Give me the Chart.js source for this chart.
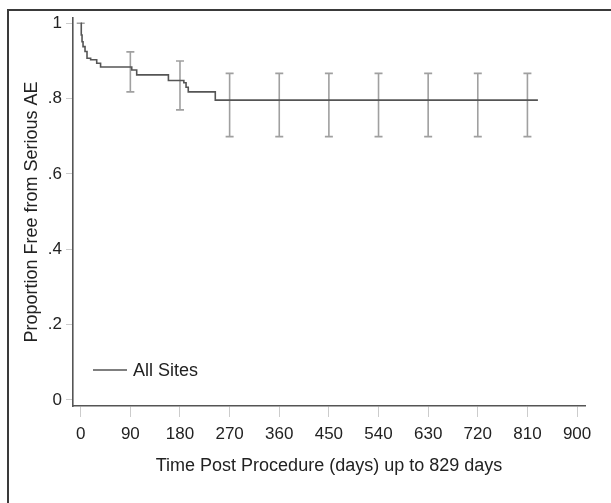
<!DOCTYPE html>
<html><head><meta charset="utf-8">
<script src="https://cdn.jsdelivr.net/npm/chart.js@4.4.0/dist/chart.umd.min.js"></script>
<style>html,body{margin:0;padding:0;background:#fff;} #wrap{position:relative;width:611px;height:503px;}</style>
</head><body><div id="wrap"><canvas id="c" width="611" height="503"></canvas></div>
<script>
// Kaplan-Meier estimate (days, proportion free from serious AE)
const kmTimes    = [0, 1, 2.4, 4.2, 7.8, 11.4, 18, 29, 36, 92.5, 101.5, 159, 187, 191, 195, 244, 829];
const kmSurvival = [1, 0.969, 0.951, 0.938, 0.925, 0.907, 0.903, 0.894, 0.884, 0.876, 0.863, 0.848, 0.842, 0.830, 0.818, 0.796, 0.796];
// confidence intervals shown at fixed times
const ciTimes = [0, 90, 180, 270, 360, 450, 540, 630, 720, 810];
const ciLower = [1, 0.818, 0.770, 0.699, 0.699, 0.699, 0.699, 0.699, 0.699, 0.699];
const ciUpper = [1, 0.924, 0.900, 0.867, 0.867, 0.867, 0.867, 0.867, 0.867, 0.867];
const xTickValues = [0, 90, 180, 270, 360, 450, 540, 630, 720, 810, 900];
const yTickValues = [0, 0.2, 0.4, 0.6, 0.8, 1];
const yTickLabels = ['0', '.2', '.4', '.6', '.8', '1'];
const seriesLabel = 'All Sites';
const xTitle = 'Time Post Procedure (days) up to 829 days';
const yTitle = 'Proportion Free from Serious AE';

const FONT = '"Liberation Sans", Arial, sans-serif';

const errorBars = {
  id: 'errorBars',
  beforeDatasetsDraw(chart) {
    const {ctx, scales: {x, y}} = chart;
    ctx.save();
    ctx.strokeStyle = '#a0a0a0';
    ctx.lineWidth = 1.6;
    ciTimes.forEach((t, i) => {
      const px = x.getPixelForValue(t);
      const lo = y.getPixelForValue(ciLower[i]);
      const hi = y.getPixelForValue(ciUpper[i]);
      ctx.beginPath();
      ctx.moveTo(px, lo); ctx.lineTo(px, hi);
      ctx.moveTo(px - 4, lo); ctx.lineTo(px + 4, lo);
      ctx.moveTo(px - 4, hi); ctx.lineTo(px + 4, hi);
      ctx.stroke();
    });
    ctx.restore();
  }
};

const frameAndLegend = {
  id: 'frameAndLegend',
  afterDraw(chart) {
    const {ctx} = chart;
    ctx.save();
    // outer frame
    ctx.strokeStyle = '#3a3a3a';
    ctx.lineWidth = 2;
    ctx.beginPath();
    ctx.moveTo(8, 503); ctx.lineTo(8, 10); ctx.lineTo(611, 10);
    ctx.stroke();
    // legend
    const ds = chart.data.datasets[0];
    ctx.strokeStyle = ds.borderColor;
    ctx.lineWidth = 1.5;
    ctx.beginPath();
    ctx.moveTo(93, 370); ctx.lineTo(127, 370);
    ctx.stroke();
    ctx.fillStyle = '#222';
    ctx.font = '18px ' + FONT;
    ctx.textBaseline = 'middle';
    ctx.textAlign = 'left';
    ctx.fillText(ds.label, 133, 371);
    ctx.restore();
  }
};

new Chart(document.getElementById('c'), {
  type: 'line',
  data: {
    datasets: [{
      label: seriesLabel,
      data: kmTimes.map((t, i) => ({x: t, y: kmSurvival[i]})),
      stepped: 'before',
      borderColor: '#555555',
      borderWidth: 1.6,
      pointRadius: 0,
      fill: false
    }]
  },
  options: {
    responsive: false,
    animation: false,
    devicePixelRatio: 1,
    layout: {padding: {left: 0, top: 18, right: 26, bottom: 0}},
    plugins: {legend: {display: false}, tooltip: {enabled: false}},
    scales: {
      x: {
        type: 'linear',
        min: -14,
        max: 914.4,
        afterBuildTicks: s => { s.ticks = xTickValues.map(v => ({value: v})); },
        afterFit: s => { s.height = 97; },
        grid: {drawOnChartArea: false, drawTicks: true, tickLength: 11, color: '#cccccc', lineWidth: 1},
        border: {display: true, color: '#555555', width: 1.6},
        ticks: {color: '#222', font: {family: FONT, size: 17}, padding: 7, maxRotation: 0, autoSkip: false,
                callback: v => String(v)},
        title: {display: true, text: xTitle, color: '#222', font: {family: FONT, size: 18}, padding: {top: 0, bottom: 26}}
      },
      y: {
        type: 'linear',
        min: -0.016,
        max: 1.014,
        afterBuildTicks: s => { s.ticks = yTickValues.map(v => ({value: v})); },
        afterFit: s => { s.width = 73; },
        grid: {drawOnChartArea: false, drawTicks: true, tickLength: 7, color: '#cccccc', lineWidth: 1},
        border: {display: true, color: '#555555', width: 1.6},
        ticks: {color: '#222', font: {family: FONT, size: 17}, padding: 4, autoSkip: false,
                callback: v => { const i = yTickValues.indexOf(v); return i >= 0 ? yTickLabels[i] : ''; }},
        title: {display: true, text: yTitle, color: '#222', font: {family: FONT, size: 18}, padding: {top: 21, bottom: 0}}
      }
    }
  },
  plugins: [errorBars, frameAndLegend]
});
</script>
</body></html>
